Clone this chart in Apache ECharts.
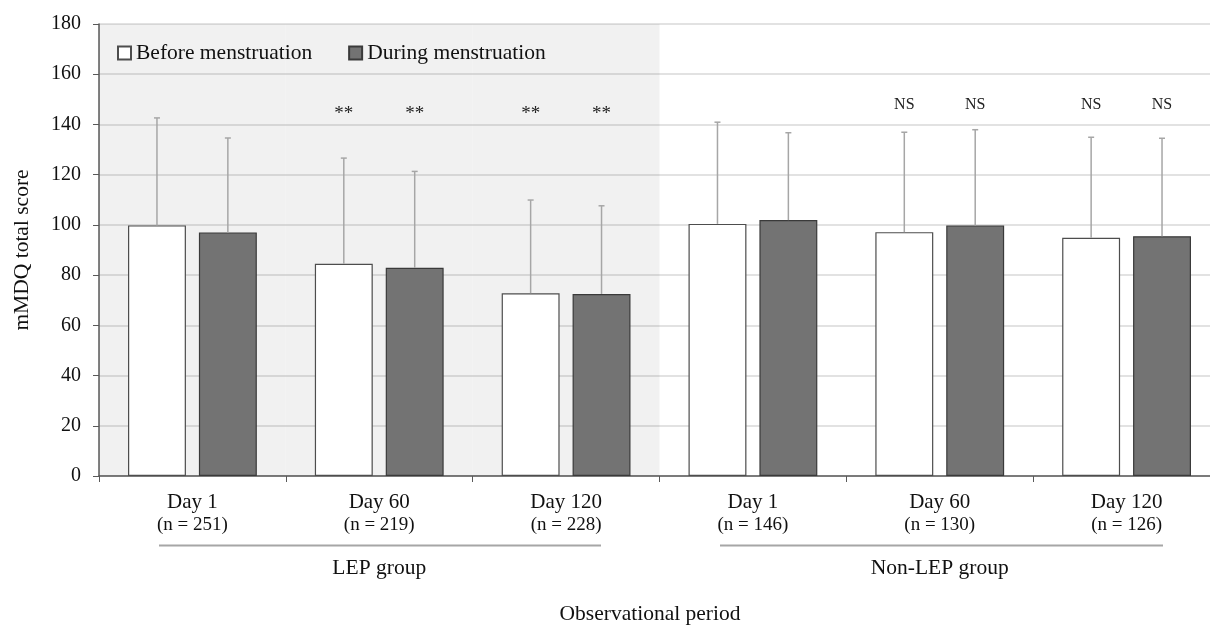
<!DOCTYPE html>
<html><head><meta charset="utf-8">
<script src="https://cdn.jsdelivr.net/npm/echarts@6/dist/echarts.min.js"></script>
<style>html,body{margin:0;padding:0;background:#fff}#c{width:1210px;height:625px}</style>
</head><body><div id="c"></div>
<script>
// ---- data ----
const days = ['Day 1', 'Day 60', 'Day 120', 'Day 1', 'Day 60', 'Day 120'];
const nCounts = [251, 219, 228, 146, 130, 126];
const groups = ['LEP group', 'Non-LEP group'];
const beforeMean = [99.8, 84.5, 72.8, 100.4, 97.1, 94.9];
const beforeUpper = [142.6, 126.6, 109.9, 140.9, 136.9, 134.9];
const duringMean = [97.0, 82.9, 72.5, 101.9, 99.8, 95.5];
const duringUpper = [134.6, 121.3, 107.6, 136.7, 137.9, 134.5];
const beforeMarks = ['', '**', '**', '', 'NS', 'NS'];
const duringMarks = ['', '**', '**', '', 'NS', 'NS'];
const shaded = [180, 180, 180, null, null, null];
const yTicks = [0, 20, 40, 60, 80, 100, 120, 140, 160, 180];

// ---- style constants ----
const FONT = '"Liberation Serif", "DejaVu Serif", serif';
const BAR_W = 0.31, BAR_GAP = 0.224;
const MARK_Y = { '**': 144.0, 'NS': 147.9 };

const cats = days.map((d, i) => d + '\n(n = ' + nCounts[i] + ')');

function errItem(sign) {
  return function (params, api) {
    const idx = api.value(0), mean = api.value(1), up = api.value(2);
    const band = api.size([1, 0])[0];
    const off = sign * band * BAR_W * (1 + BAR_GAP) / 2;
    const p0 = api.coord([idx, mean]);
    const p1 = api.coord([idx, up]);
    const x = p0[0] + off;
    const children = [
      { type: 'line', shape: { x1: x, y1: p0[1], x2: x, y2: p1[1] }, style: { stroke: '#a6a6a6', lineWidth: 1.5 } },
      { type: 'line', shape: { x1: x - 3, y1: p1[1], x2: x + 3, y2: p1[1] }, style: { stroke: '#a6a6a6', lineWidth: 1.5 } }
    ];
    const mk = params.seriesName === 'errB' ? beforeMarks[idx] : duringMarks[idx];
    if (mk) {
      const pm = api.coord([idx, MARK_Y[mk]]);
      children.push({ type: 'text', style: { x: x, y: pm[1], text: mk, align: 'center', verticalAlign: 'middle', fill: '#222', font: (mk === 'NS' ? '16px ' : '19px ') + FONT } });
    }
    return { type: 'group', children: children };
  };
}

const chart = echarts.init(document.getElementById('c'));
chart.setOption({
  animation: false,
  textStyle: { fontFamily: FONT },
  grid: { left: 99, top: 24, width: 1121, height: 452, containLabel: false, outerBoundsMode: 'none' },
  legend: {
    data: ['Before menstruation', 'During menstruation'],
    left: 112, top: 37, itemWidth: 13, itemHeight: 13, itemGap: 36,
    textStyle: { fontFamily: FONT, fontSize: 21.5, color: '#111' }, icon: 'rect'
  },
  xAxis: [
    {
      type: 'category', data: cats,
      axisLine: { lineStyle: { color: '#595959', width: 1.5 } },
      axisTick: { show: true, length: 6, lineStyle: { color: '#595959' } },
      axisLabel: {
        margin: 14, interval: 0,
        formatter: function (v) { const p = v.split('\n'); return '{d|' + p[0] + '}\n{n|' + p[1] + '}'; },
        rich: {
          d: { fontFamily: FONT, fontSize: 21, color: '#111', lineHeight: 24 },
          n: { fontFamily: FONT, fontSize: 19, color: '#111', lineHeight: 22 }
        }
      }
    },
    {
      type: 'category', data: groups, position: 'bottom',
      axisLine: { show: false }, axisTick: { show: false },
      axisLabel: { margin: 81, fontFamily: FONT, fontSize: 21.5, color: '#111' }
    },
    { type: 'category', data: cats, show: false }
  ],
  yAxis: {
    type: 'value', min: 0, max: 180, interval: 20,
    name: 'mMDQ total score', nameLocation: 'middle', nameGap: 66,
    nameTextStyle: { fontFamily: FONT, fontSize: 21.5, color: '#111' },
    axisLine: { show: true, lineStyle: { color: '#595959', width: 1.5 } },
    axisTick: { show: true, length: 6, lineStyle: { color: '#595959' } },
    axisLabel: { margin: 18, fontFamily: FONT, fontSize: 20, color: '#111',
      formatter: function (v) { return yTicks.indexOf(v) >= 0 ? String(v) : ''; } },
    splitLine: { lineStyle: { color: '#d9d9d9', width: 1.5 } }
  },
  series: [
    { name: 'bg', type: 'bar', xAxisIndex: 2, data: shaded, barWidth: '100%', silent: true,
      itemStyle: { color: 'rgba(0,0,0,0.055)' }, z: 1 },
    { name: 'Before menstruation', type: 'bar', xAxisIndex: 0, data: beforeMean,
      barWidth: (BAR_W * 100) + '%', barGap: (BAR_GAP * 100) + '%',
      itemStyle: { color: '#ffffff', borderColor: '#4d4d4d', borderWidth: 1.2 }, z: 3 },
    { name: 'During menstruation', type: 'bar', xAxisIndex: 0, data: duringMean,
      barWidth: (BAR_W * 100) + '%', barGap: (BAR_GAP * 100) + '%',
      itemStyle: { color: '#737373', borderColor: '#3a3a3a', borderWidth: 1.2 }, z: 3 },
    { name: 'errB', type: 'custom', xAxisIndex: 0, renderItem: errItem(-1), z: 4,
      data: beforeMean.map((m, i) => [i, m, beforeUpper[i]]) },
    { name: 'errD', type: 'custom', xAxisIndex: 0, renderItem: errItem(1), z: 4,
      data: duringMean.map((m, i) => [i, m, duringUpper[i]]) }
  ],
  graphic: [
    { type: 'line', shape: { x1: 159, y1: 545.5, x2: 601, y2: 545.5 }, style: { stroke: '#a6a6a6', lineWidth: 2 } },
    { type: 'line', shape: { x1: 720, y1: 545.5, x2: 1163, y2: 545.5 }, style: { stroke: '#a6a6a6', lineWidth: 2 } },
    { type: 'text', x: 650, y: 614, style: { text: 'Observational period', align: 'center', verticalAlign: 'middle', font: '21.5px ' + FONT, fill: '#111' } }
  ]
});
</script>
</body></html>
